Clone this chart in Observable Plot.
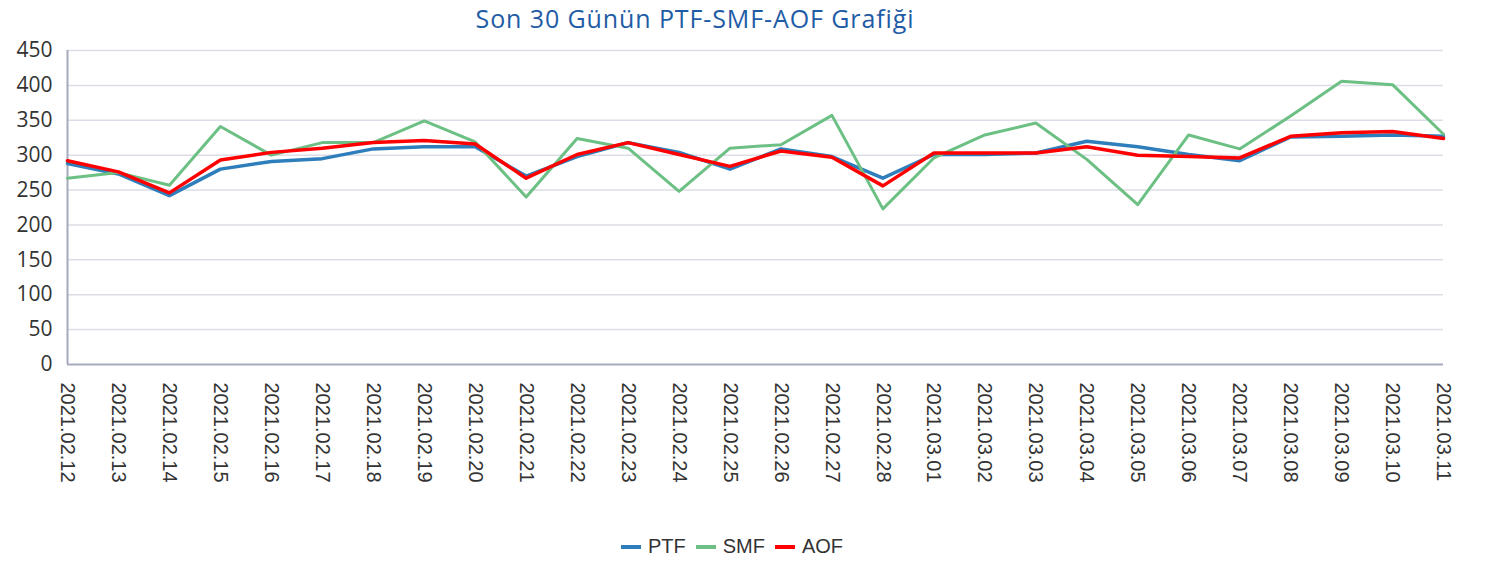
<!DOCTYPE html>
<html><head><meta charset="utf-8">
<script src="https://cdn.jsdelivr.net/npm/d3@7"></script>
<script src="https://cdn.jsdelivr.net/npm/@observablehq/plot@0.6"></script>
<style>
body{margin:0;background:#fff;overflow:hidden;}
#title{width:1390px;text-align:center;font-family:"Open Sans",sans-serif;font-size:25px;letter-spacing:0.9px;color:#1f5ca6;height:36px;line-height:36px;white-space:nowrap;}
#legend{width:1464px;text-align:center;font-family:"Liberation Sans",Arial,sans-serif;font-size:20px;color:#333;margin-top:29px;}
#legend span.item{display:inline-block;margin:0 5px;}
#legend span.sw{display:inline-block;width:20px;height:4px;vertical-align:middle;margin-right:7px;position:relative;top:-1px;}
</style></head>
<body>
<div id="title">Son 30 Günün PTF-SMF-AOF Grafiği</div>
<div id="chart"></div>
<div id="legend"></div>
<script>
const dates = ["2021.02.12","2021.02.13","2021.02.14","2021.02.15","2021.02.16","2021.02.17","2021.02.18","2021.02.19","2021.02.20","2021.02.21","2021.02.22","2021.02.23","2021.02.24","2021.02.25","2021.02.26","2021.02.27","2021.02.28","2021.03.01","2021.03.02","2021.03.03","2021.03.04","2021.03.05","2021.03.06","2021.03.07","2021.03.08","2021.03.09","2021.03.10","2021.03.11"];
const ptf = [288,273,242,280,291,295,309,312,312,270,298,318,304,280,309,298,267,301,301,303,320,312,301,292,326,327,329,327];
const smf = [267,275,257,341,300,318,318,349,319,240,324,310,248,310,315,357,223,296,329,346,294,229,329,309,356,406,401,330];
const aof = [292,276,246,293,304,310,318,321,316,267,301,318,301,284,306,297,256,303,303,303,312,300,298,296,327,332,334,324];
const seriesNames = ["PTF","SMF","AOF"];
const seriesColors = ["#2e7ebb","#6cc084","#ff0000"];
const yTicks = [0,50,100,150,200,250,300,350,400,450];

const rows = (name, vals) => vals.map((v,i)=>({date:dates[i], series:name, value:v}));
const data = [...rows("PTF",ptf), ...rows("SMF",smf), ...rows("AOF",aof)];

const chart = Plot.plot({
  width:1491, height:470,
  marginLeft:67, marginRight:48, marginTop:14, marginBottom:142,
  style:{fontFamily:"'Open Sans',sans-serif", fontSize:"17px", color:"#333", background:"#fff", overflow:"visible"},
  x:{type:"point", domain:dates, padding:0, round:false, label:null},
  y:{domain:[0,450], label:null},
  color:{domain:seriesNames, range:seriesColors},
  marks:[
    Plot.gridY(yTicks.filter(d=>d>0), {stroke:"#dcdde6", strokeOpacity:1, strokeWidth:1.5}),
    Plot.axisY(yTicks, {tickSize:0, tickPadding:15, fontSize:21, label:null}),
    Plot.axisX(dates, {tickSize:0, tickPadding:18, tickRotate:90, fontSize:20, fontFamily:"'Liberation Sans',Arial,sans-serif", label:null}),
    Plot.ruleY([0], {stroke:"#a6a9bd", strokeWidth:2}),
    Plot.ruleX([dates[0]], {y1:0, y2:450, stroke:"#a6a9bd", strokeWidth:2}),
    Plot.line(data.filter(d=>d.series==="PTF"), {x:"date", y:"value", stroke:"series", strokeWidth:3.5}),
    Plot.line(data.filter(d=>d.series==="SMF"), {x:"date", y:"value", stroke:"series", strokeWidth:3}),
    Plot.line(data.filter(d=>d.series==="AOF"), {x:"date", y:"value", stroke:"series", strokeWidth:3.5})
  ]
});
document.getElementById("chart").appendChild(chart);

const lg = document.getElementById("legend");
seriesNames.forEach((n,i)=>{
  const it = document.createElement("span"); it.className="item";
  const sw = document.createElement("span"); sw.className="sw"; sw.style.background=seriesColors[i];
  it.appendChild(sw); it.appendChild(document.createTextNode(n));
  lg.appendChild(it);
});
</script>
</body></html>
